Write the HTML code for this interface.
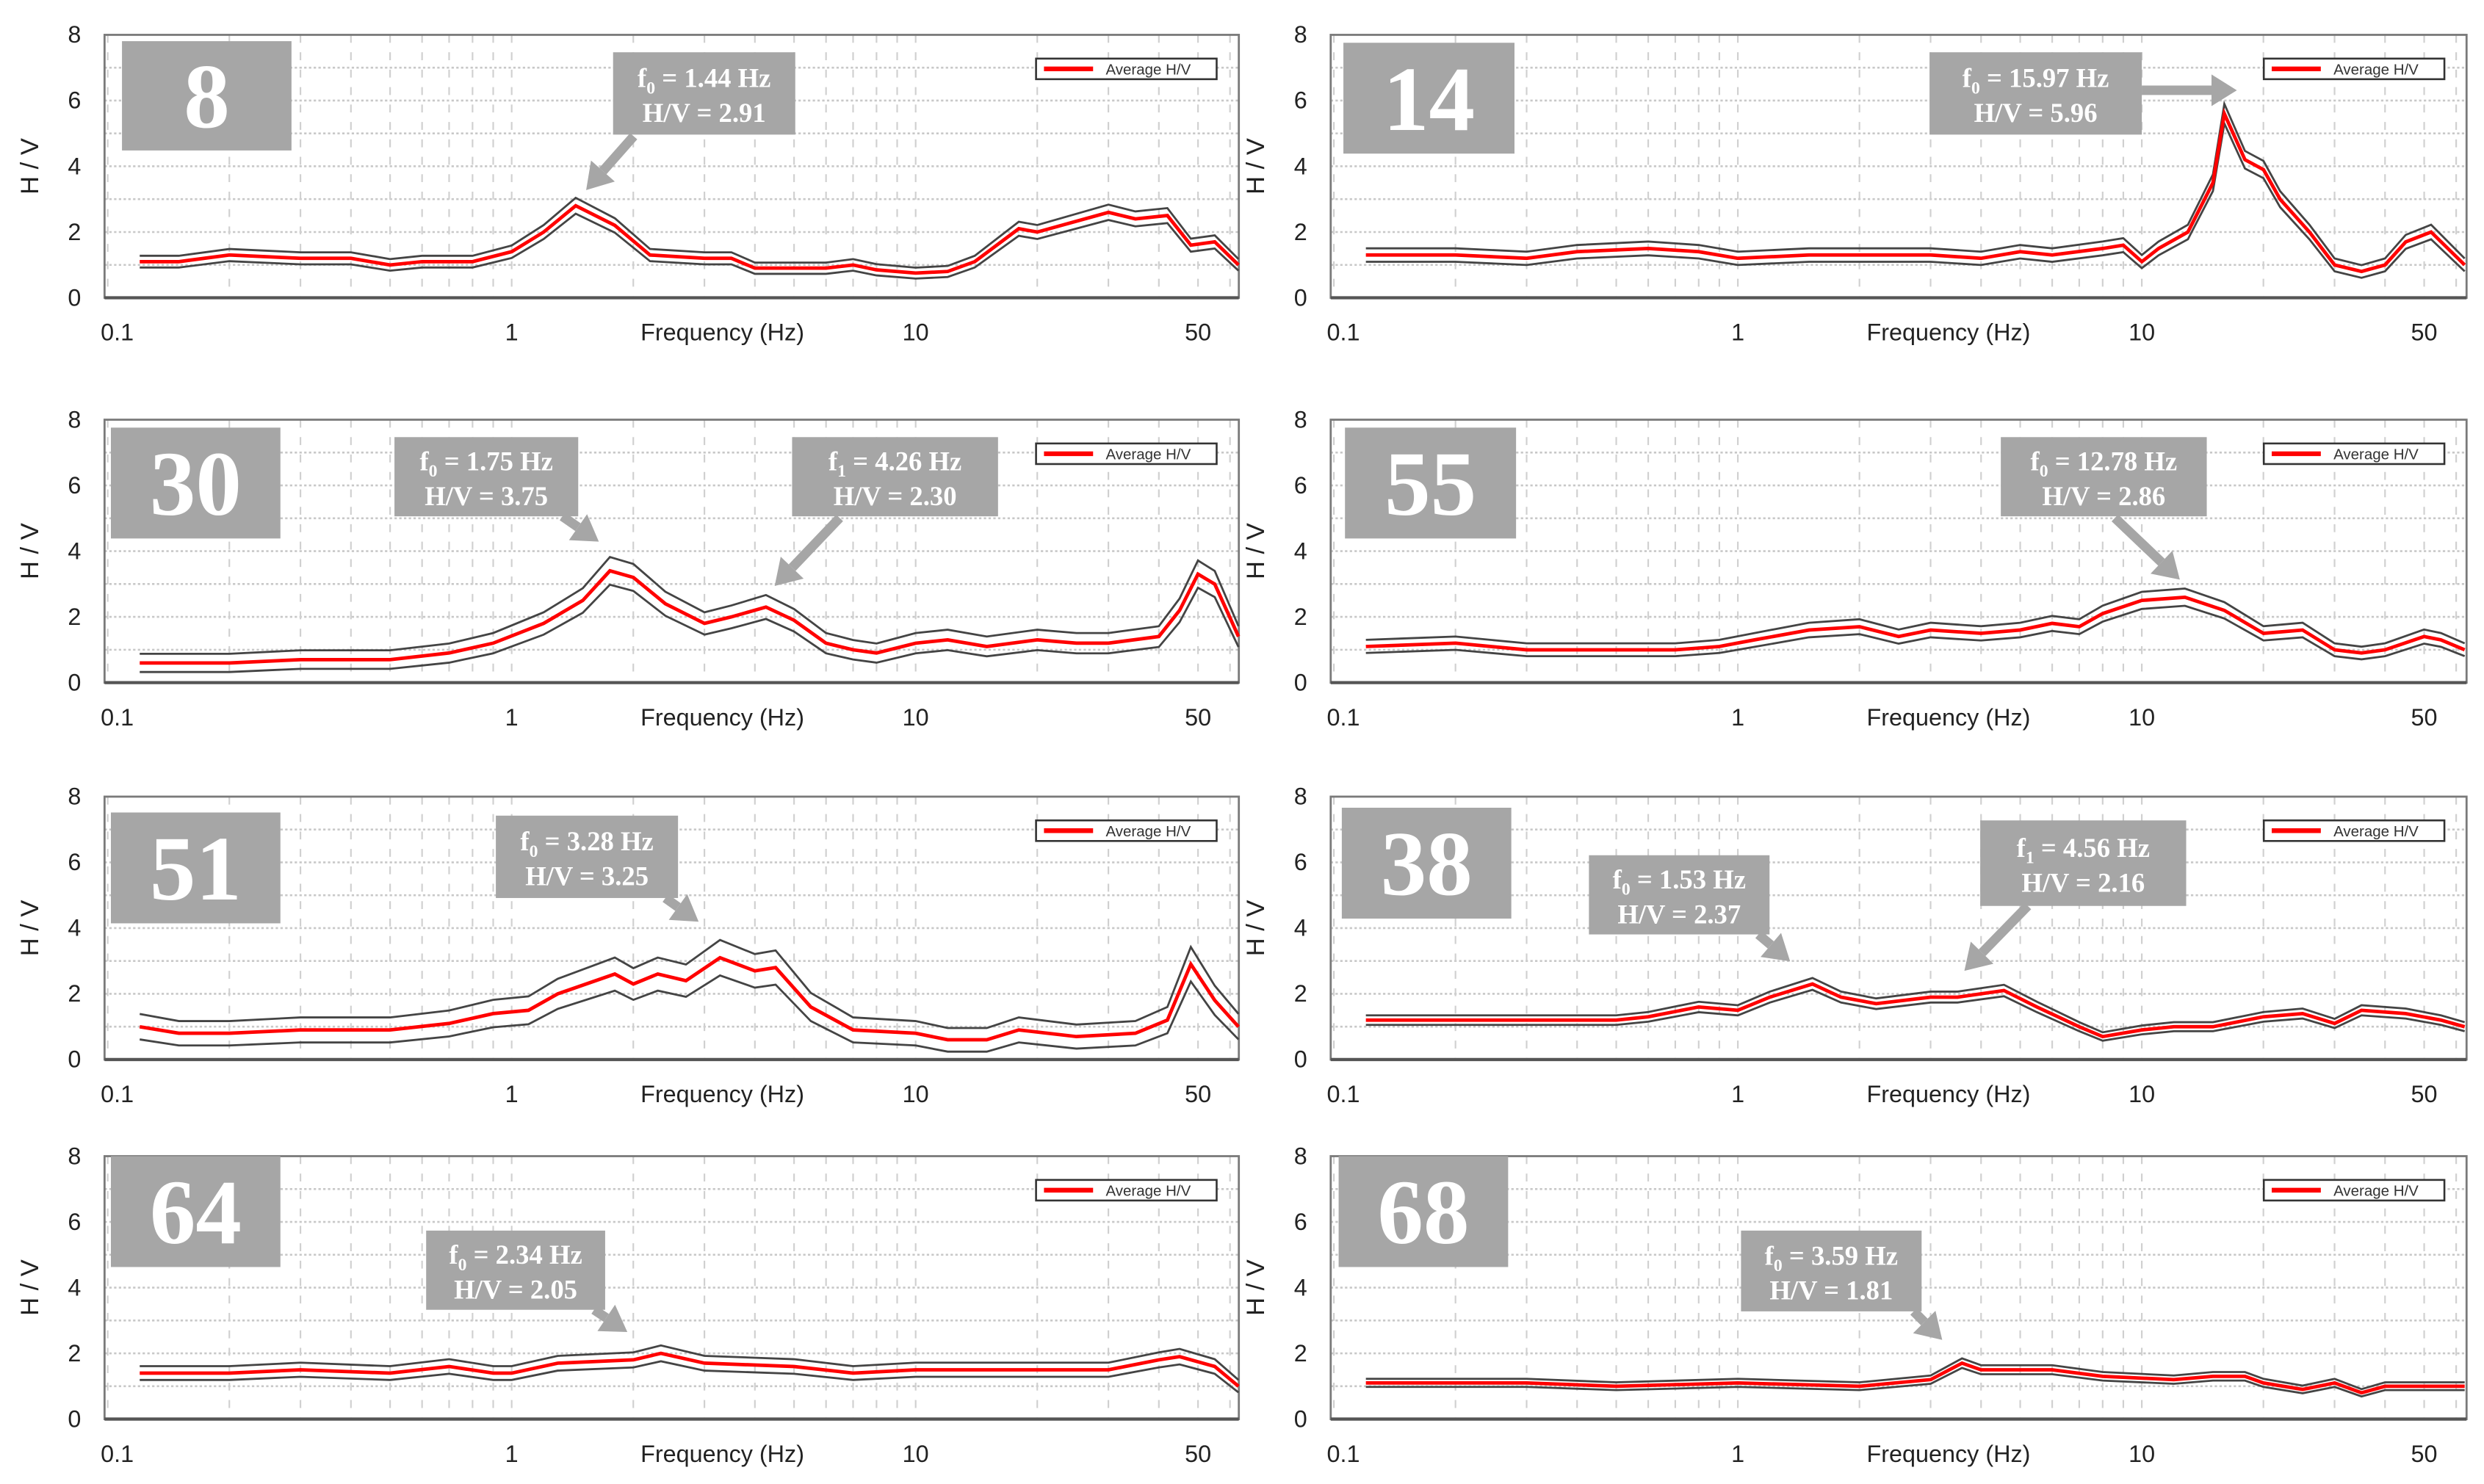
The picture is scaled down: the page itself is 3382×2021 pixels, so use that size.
<!DOCTYPE html>
<html><head><meta charset="utf-8"><style>
html,body{margin:0;padding:0;background:#fff;}
svg{display:block;}
</style></head><body>
<svg id="fig" xmlns="http://www.w3.org/2000/svg" width="3382" height="2021" viewBox="0 0 1568 937"></svg>
<script>
// ---- data per panel ----
const p8Freq=[0.12,0.15,0.2,0.3,0.4,0.5,0.6,0.8,1.0,1.2,1.44,1.8,2.2,3,3.5,4,6,7,8,10,12,14,18,20,30,35,42,48,55,63];
const p8Mean=[1.1,1.1,1.3,1.2,1.2,1.0,1.1,1.1,1.4,2.0,2.8,2.2,1.3,1.2,1.2,0.9,0.9,1.0,0.85,0.75,0.8,1.1,2.1,2.0,2.6,2.4,2.5,1.6,1.7,1.0];
const p8Spread=0.2;
const p14Freq=[0.12,0.2,0.3,0.4,0.6,0.8,1,1.5,2,3,4,5,6,8,9,10,11,13,15,16,18,20,22,26,30,35,40,45,52,63];
const p14Mean=[1.3,1.3,1.2,1.4,1.5,1.4,1.2,1.3,1.3,1.3,1.2,1.4,1.3,1.5,1.6,1.1,1.5,2.0,3.5,5.6,4.2,3.9,3.0,2.0,1.0,0.8,1.0,1.7,2.0,1.0];
const p14Spread=0.25;
const p30Freq=[0.12,0.2,0.3,0.5,0.7,0.9,1.2,1.5,1.75,2,2.4,3,3.5,4.26,5,6,7,8,10,12,15,20,25,30,40,45,50,55,63];
const p30Mean=[0.6,0.6,0.7,0.7,0.9,1.2,1.8,2.5,3.4,3.2,2.4,1.8,2.0,2.3,1.9,1.2,1.0,0.9,1.2,1.3,1.1,1.3,1.2,1.2,1.4,2.2,3.3,3.0,1.4];
const p30Spread=0.35;
const p55Freq=[0.12,0.2,0.3,0.5,0.7,0.9,1.1,1.5,2,2.5,3,4,5,6,7,8,10,12.78,16,20,25,30,35,40,50,55,63];
const p55Mean=[1.1,1.2,1.0,1.0,1.0,1.1,1.3,1.6,1.7,1.4,1.6,1.5,1.6,1.8,1.7,2.1,2.5,2.6,2.2,1.5,1.6,1.0,0.9,1.0,1.4,1.3,1.0];
const p55Spread=0.22;
const p51Freq=[0.12,0.15,0.2,0.3,0.5,0.7,0.9,1.1,1.3,1.8,2.0,2.3,2.7,3.28,4,4.5,5.5,7,10,12,15,18,25,35,42,48,55,63];
const p51Mean=[1.0,0.8,0.8,0.9,0.9,1.1,1.4,1.5,2.0,2.6,2.3,2.6,2.4,3.1,2.7,2.8,1.6,0.9,0.8,0.6,0.6,0.9,0.7,0.8,1.2,2.9,1.8,1.0];
const p51Spread=0.45;
const p38Freq=[0.12,0.2,0.3,0.5,0.6,0.8,1.0,1.2,1.53,1.8,2.2,3,3.5,4.56,5.5,7,8,10,12,15,20,25,30,35,45,55,63];
const p38Mean=[1.2,1.2,1.2,1.2,1.3,1.6,1.5,1.9,2.3,1.9,1.7,1.9,1.9,2.1,1.6,1.0,0.7,0.9,1.0,1.0,1.3,1.4,1.1,1.5,1.4,1.2,1.0];
const p38Spread=0.15;
const p64Freq=[0.12,0.2,0.3,0.5,0.7,0.9,1.0,1.3,2.0,2.34,3,5,7,10,15,20,30,40,45,55,63];
const p64Mean=[1.4,1.4,1.5,1.4,1.6,1.4,1.4,1.7,1.8,2.0,1.7,1.6,1.4,1.5,1.5,1.5,1.5,1.8,1.9,1.6,1.0];
const p64Spread=0.2;
const p68Freq=[0.12,0.3,0.5,1,2,3,3.59,4,6,8,12,15,18,20,25,30,35,40,50,63];
const p68Mean=[1.1,1.1,1.0,1.1,1.0,1.2,1.7,1.5,1.5,1.3,1.2,1.3,1.3,1.1,0.9,1.1,0.8,1.0,1.0,1.0];
const p68Spread=0.12;
const yTicks=[0,2,4,6,8];
const xTickLabels=["0.1","1","10","50"];
const xTickValues=[0.1,1,10,50];

const panels=[
 {id:"8",freq:p8Freq,mean:p8Mean,sp:p8Spread,x0:66,x1:782,yt:22,yb:188,box:[77,26,107,69],
  ann:[{r:[387,33,115,52],t:["1.44","2.91"],sub:"0",ar:[400,86,370,120]}]},
 {id:"14",freq:p14Freq,mean:p14Mean,sp:p14Spread,x0:840,x1:1557,yt:22,yb:188,box:[848,27,108,70],
  ann:[{r:[1218,33,134,52],t:["15.97","5.96"],sub:"0",ar:[1352,57,1412,57]}]},
 {id:"30",freq:p30Freq,mean:p30Mean,sp:p30Spread,x0:66,x1:782,yt:265,yb:431,box:[70,270,107,70],
  ann:[{r:[249,276,116,50],t:["1.75","3.75"],sub:"0",ar:[355,326,378,342]},{r:[500,276,130,50],t:["4.26","2.30"],sub:"1",ar:[530,327,489,370]}]},
 {id:"55",freq:p55Freq,mean:p55Mean,sp:p55Spread,x0:840,x1:1557,yt:265,yb:431,box:[849,270,108,70],
  ann:[{r:[1263,276,130,50],t:["12.78","2.86"],sub:"0",ar:[1335,327,1376,366]}]},
 {id:"51",freq:p51Freq,mean:p51Mean,sp:p51Spread,x0:66,x1:782,yt:503,yb:669,box:[70,513,107,70],
  ann:[{r:[313,515,115,52],t:["3.28","3.25"],sub:"0",ar:[420,567,441,582]}]},
 {id:"38",freq:p38Freq,mean:p38Mean,sp:p38Spread,x0:840,x1:1557,yt:503,yb:669,box:[847,510,107,70],
  ann:[{r:[1003,540,114,50],t:["1.53","2.37"],sub:"0",ar:[1110,590,1130,607]},{r:[1250,518,130,54],t:["4.56","2.16"],sub:"1",ar:[1280,572,1240,613]}]},
 {id:"64",freq:p64Freq,mean:p64Mean,sp:p64Spread,x0:66,x1:782,yt:730,yb:896,box:[70,730,107,70],
  ann:[{r:[269,777,113,50],t:["2.34","2.05"],sub:"0",ar:[375,827,396,841]}]},
 {id:"68",freq:p68Freq,mean:p68Mean,sp:p68Spread,x0:840,x1:1557,yt:730,yb:896,box:[845,730,107,70],
  ann:[{r:[1099,777,114,51],t:["3.59","1.81"],sub:"0",ar:[1208,828,1226,846]}]}
];
const NS="http://www.w3.org/2000/svg";
const svg=document.getElementById('fig');
function mk(tag,attrs,parent){const e=document.createElementNS(NS,tag);for(const k in attrs)e.setAttribute(k,attrs[k]);(parent||svg).appendChild(e);return e;}
const SERIF='"Liberation Serif", serif', SANS='"Liberation Sans", sans-serif';
panels.forEach(p=>{
  const g=mk('g',{});
  
  
  const decade=255, off=p.x0+2+255; // x of f=1
  const xs=f=>off+decade*Math.log10(f);
  const ys=v=>p.yb-(p.yb-p.yt)*v/8;
  // grid
  for(let v=1;v<8;v++){const l=mk('line',{x1:p.x0,x2:p.x1,y1:ys(v),y2:ys(v),stroke:'#c8c8c8','stroke-width':1.2,'stroke-dasharray':'1.5 1.5'},g);
    }
  for(let d=0.1;d<100;d*=10){for(let m=1;m<10;m++){const f=d*m;const x=xs(f);if(x<=p.x0+1||x>=p.x1)continue;
    const l=mk('line',{x1:x,x2:x,y1:p.yt,y2:p.yb,stroke:'#d0d0d0','stroke-width':1,'stroke-dasharray':'5 6'},g);
    }}
  // frame
  const fr=mk('rect',{x:p.x0,y:p.yt,width:p.x1-p.x0,height:p.yb-p.yt,fill:'none',stroke:'#7a7a7a','stroke-width':1.3},g);
  
  mk('line',{x1:p.x0,x2:p.x1,y1:p.yb,y2:p.yb,stroke:'#555','stroke-width':2},g);
  // series
  const path=(arr)=>arr.map((v,i)=>(i?'L':'M')+xs(p.freq[i]).toFixed(1)+' '+ys(v).toFixed(1)).join(' ');
  const peak=Math.max(...p.mean);
  const up=p.mean.map(v=>v+p.sp*(0.7+0.5*v/peak));
  const lo=p.mean.map(v=>Math.max(0.05,v-p.sp*(0.7+0.5*v/peak)));
  const u=mk('path',{d:path(up),fill:'none',stroke:'#444','stroke-width':1.3},g);
  
  const lw=mk('path',{d:path(lo),fill:'none',stroke:'#444','stroke-width':1.3},g);
  
  const m=mk('path',{d:path(p.mean),fill:'none',stroke:'#ff0000','stroke-width':2.2},g);
  
  // y ticks
  yTicks.forEach(v=>{const t=mk('text',{x:p.x0-19,y:ys(v)+5,'font-family':SANS,'font-size':15,fill:'#222','text-anchor':'middle'},g);t.textContent=v;
    });
  xTickValues.forEach((f,i)=>{const t=mk('text',{x:xs(f)+(i==0?6:0),y:p.yb+27,'font-family':SANS,'font-size':15,fill:'#222','text-anchor':'middle'},g);t.textContent=xTickLabels[i];
    });
  const xt=mk('text',{x:p.x0+390,y:p.yb+27,'font-family':SANS,'font-size':15,fill:'#222','text-anchor':'middle'},g);xt.textContent='Frequency (Hz)';
  
  const ycx=p.x0-42, ycy=(p.yt+p.yb)/2;
  const yt=mk('text',{x:ycx,y:ycy,'font-family':SANS,'font-size':16,fill:'#222','text-anchor':'middle',transform:`rotate(-90 ${ycx} ${ycy})`},g);yt.textContent='H / V';
  
  // legend
  const lg=mk('g',{},g);
  mk('rect',{x:p.x1-128,y:p.yt+15,width:114,height:13,fill:'#fff',stroke:'#333','stroke-width':1.2},lg);
  mk('line',{x1:p.x1-123,x2:p.x1-92,y1:p.yt+21.5,y2:p.yt+21.5,stroke:'#ff0000','stroke-width':3},lg);
  const lt=mk('text',{x:p.x1-84,y:p.yt+25,'font-family':SANS,'font-size':9.5,fill:'#333'},lg);lt.textContent='Average H/V';
  // big number box
  const bx=mk('rect',{x:p.box[0],y:p.box[1],width:p.box[2],height:p.box[3],fill:'#a6a6a6'},g);
  
  const bt=mk('text',{x:p.box[0]+p.box[2]/2,y:p.box[1]+p.box[3]/2+20,'font-family':SERIF,'font-size':58,'font-weight':'bold',fill:'#fff','text-anchor':'middle'},g);bt.textContent=p.id;
  
  // annotations
  p.ann.forEach(a=>{
    const ag=mk('g',{},g);
    const [x1,y1,x2,y2]=a.ar;const dx=x2-x1,dy=y2-y1,L=Math.hypot(dx,dy),ux=dx/L,uy=dy/L;
    const hx=x2-ux*16,hy=y2-uy*16;
    mk('line',{x1:x1,y1:y1,x2:hx,y2:hy,stroke:'#a6a6a6','stroke-width':6},ag);
    mk('polygon',{points:`${x2},${y2} ${hx-uy*10},${hy+ux*10} ${hx+uy*10},${hy-ux*10}`,fill:'#a6a6a6'},ag);
    mk('rect',{x:a.r[0],y:a.r[1],width:a.r[2],height:a.r[3],fill:'#a6a6a6'},ag);
    const cx=a.r[0]+a.r[2]/2;
    const t1=mk('text',{x:cx,y:a.r[1]+a.r[3]/2-4,'font-family':SERIF,'font-size':17,'font-weight':'bold',fill:'#fff','text-anchor':'middle'},ag);
    t1.innerHTML='f<tspan font-size="11" dy="4">'+a.sub+'</tspan><tspan dy="-4"> = '+a.t[0]+' Hz</tspan>';
    const t2=mk('text',{x:cx,y:a.r[1]+a.r[3]/2+18,'font-family':SERIF,'font-size':17,'font-weight':'bold',fill:'#fff','text-anchor':'middle'},ag);
    t2.textContent='H/V = '+a.t[1];
  });
});
</script>
</body></html>
